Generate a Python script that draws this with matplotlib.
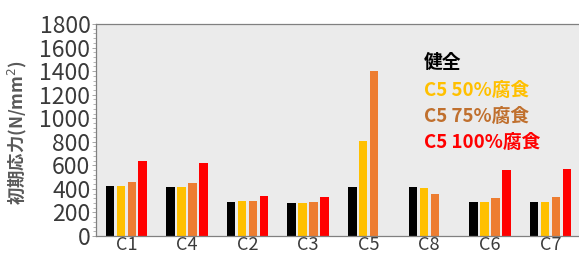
import numpy as np
import matplotlib
matplotlib.use("Agg")
import matplotlib.pyplot as plt
from matplotlib.ticker import MultipleLocator

plt.rcParams['font.family'] = ['Noto Sans CJK JP', 'DejaVu Sans']

categories = ["C1", "C4", "C2", "C3", "C5", "C8", "C6", "C7"]
sound = [424, 416, 291, 283, 416, 419, 286, 291]
corr50 = [427, 419, 294, 283, 806, 407, 286, 291]
corr75 = [456, 447, 297, 291, 1398, 359, 320, 328]
corr100 = [634, 622, 342, 328, np.nan, np.nan, 558, 569]
series_labels = ["健全", "C5 50%腐食", "C5 75%腐食", "C5 100%腐食"]
yticks = [0, 200, 400, 600, 800, 1000, 1200, 1400, 1600, 1800]

bar_colors = ["#000000", "#FFC000", "#ED7D31", "#FF0000"]
text_colors = ["#000000", "#FFC000", "#C0702E", "#FF0000"]

W, H = 579, 257
fig = plt.figure(figsize=(W / 100, H / 100), dpi=100)
left, right, bottom, top = 96, 579, 21, 233
ax = fig.add_axes([left / W, bottom / H, (right - left) / W, (top - bottom) / H])
ax.set_facecolor("#EBEBEB")

x = np.arange(len(categories))
step = 0.18
width = 0.14
allv = [sound, corr50, corr75, corr100]
for i, (vals, c) in enumerate(zip(allv, bar_colors)):
    ax.bar(x + (i - 1.5) * step, vals, width=width, color=c, zorder=2)

group_px = 60.6
ax.set_xlim(-0.5, (right - left) / group_px - 0.5)
ax.set_ylim(0, 1800)
ax.set_yticks(yticks)
ax.set_yticklabels([str(v) for v in yticks])
ax.yaxis.set_minor_locator(MultipleLocator(40))
ax.set_xticks(x)
ax.set_xticklabels(categories)
ax.tick_params(axis='y', labelsize=16.5, labelcolor="#3a3a3a", length=3, width=0.6, pad=1, direction='out')
ax.tick_params(axis='y', which='minor', length=2, width=0.5, colors="#999999")
ax.tick_params(axis='y', which='major', color="#999999")
ax.tick_params(axis='x', labelsize=13, labelcolor="#3a3a3a", length=0, pad=0)

for s in ["left", "top", "bottom"]:
    ax.spines[s].set_color("#808080")
    ax.spines[s].set_linewidth(0.9)
ax.spines["right"].set_visible(False)

fig.text(17 / W, 1 - 133 / H, "初期応力(N/mm$^2$)", fontsize=12.5, color="#595959",
         fontweight='bold', rotation=90, ha='center', va='center')

ys = [62, 90, 116, 142]
for lab, c, yy in zip(series_labels, text_colors, ys):
    fig.text(424 / W, 1 - yy / H, lab, color=c, fontsize=13.5, fontweight='bold',
             ha='left', va='center')

fig.savefig("out.png", dpi=100, facecolor="white")
